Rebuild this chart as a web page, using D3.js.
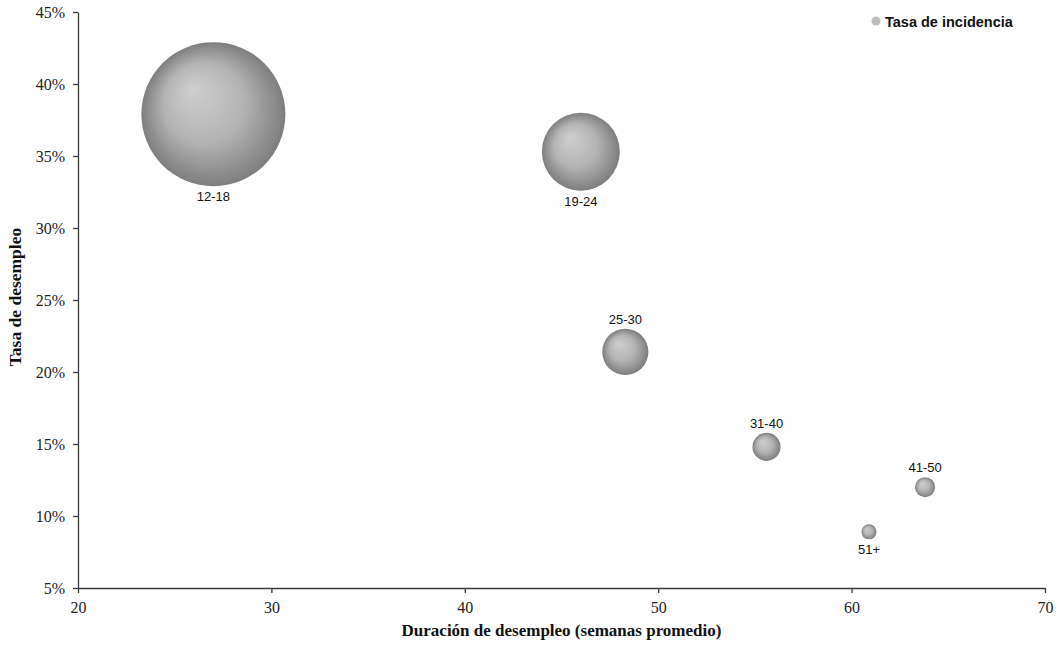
<!DOCTYPE html>
<html>
<head>
<meta charset="utf-8">
<script src="https://cdn.jsdelivr.net/npm/d3@7"></script>
<style>
  body { margin: 0; background: #fff; }
  .axis text { font-family: "Liberation Serif", "DejaVu Serif", serif; font-size: 16px; fill: #222; }
  .axis path, .axis line { stroke: #3a3a3a; stroke-width: 1.3px; }
</style>
</head>
<body>
<div id="chart"></div>
<script>
// Grupos de edad: duración vs tasa de desempleo, tamaño = tasa de incidencia
var groups = ["12-18", "19-24", "25-30", "31-40", "41-50", "51+"];
var duration = [27.0, 46.0, 48.3, 55.6, 63.8, 60.9];
var unemployment = [37.9, 35.3, 21.4, 14.8, 12.0, 8.9];
var incidence = [51.5, 15.1, 5.3, 1.95, 1.0, 0.56];
var labelPos = ["below", "below", "above", "above", "above", "below"];
var xTicks = [20, 30, 40, 50, 60, 70];
var yTicks = [5, 10, 15, 20, 25, 30, 35, 40, 45];

var W = 1059, H = 654;
var margin = { top: 12, right: 14, bottom: 66, left: 78 };
var width = W - margin.left - margin.right,
    height = H - margin.top - margin.bottom;

var svg = d3.select("#chart").append("svg")
    .attr("width", W)
    .attr("height", H);

var defs = svg.append("defs");
var grad = defs.append("radialGradient")
    .attr("id", "ball")
    .attr("cx", "50%").attr("cy", "50%").attr("r", "50%")
    .attr("fx", "35%").attr("fy", "32%");
grad.append("stop").attr("offset", "0%").attr("stop-color", "#cfcfcf");
grad.append("stop").attr("offset", "55%").attr("stop-color", "#b4b4b4");
grad.append("stop").attr("offset", "100%").attr("stop-color", "#7e7e7e");

var g = svg.append("g")
    .attr("transform", "translate(" + margin.left + "," + margin.top + ")");

var x = d3.scaleLinear().domain([20, 70]).range([0, width]);
var y = d3.scaleLinear().domain([5, 45]).range([height, 0]);
var r = d3.scaleSqrt().domain([0, d3.max(incidence)]).range([0, 72]);

// axes
g.append("g")
    .attr("class", "x-axis axis")
    .attr("transform", "translate(0," + height + ")")
    .call(d3.axisBottom(x).tickValues(xTicks).tickSize(5).tickSizeOuter(0).tickPadding(9).tickFormat(d3.format("d")))

g.append("g")
    .attr("class", "y-axis axis")
    .call(d3.axisLeft(y).tickValues(yTicks).tickSize(5).tickSizeOuter(0).tickPadding(8).tickFormat(d => d + "%"))

// axis titles
g.append("text")
    .attr("x", width / 2)
    .attr("y", height + 48)
    .attr("text-anchor", "middle")
    .attr("font-family", "Liberation Serif, DejaVu Serif, serif")
    .attr("font-weight", "bold")
    .attr("font-size", "17px")
    .attr("fill", "#111")
    .text("Duración de desempleo (semanas promedio)");

g.append("text")
    .attr("transform", "translate(" + (-57) + "," + (height / 2 - 3) + ") rotate(-90)")
    .attr("text-anchor", "middle")
    .attr("font-family", "Liberation Serif, DejaVu Serif, serif")
    .attr("font-weight", "bold")
    .attr("font-size", "17.5px")
    .attr("fill", "#111")
    .text("Tasa de desempleo");

// bubbles
var idx = d3.range(groups.length);

g.selectAll("circle.bubble")
    .data(idx)
    .enter()
    .append("circle")
    .attr("class", "bubble")
    .attr("cx", i => x(duration[i]))
    .attr("cy", i => y(unemployment[i]))
    .attr("r", i => r(incidence[i]))
    .attr("fill", "url(#ball)");

g.selectAll("text.lbl")
    .data(idx)
    .enter()
    .append("text")
    .attr("class", "lbl")
    .attr("x", i => x(duration[i]))
    .attr("y", i => labelPos[i] == "below"
        ? y(unemployment[i]) + r(incidence[i]) + 15
        : y(unemployment[i]) - r(incidence[i]) - 5)
    .attr("text-anchor", "middle")
    .attr("font-family", "Liberation Sans, Arial, sans-serif")
    .attr("font-size", "13px")
    .attr("fill", "#111")
    .text(i => groups[i]);

// legend
var legend = svg.append("g").attr("transform", "translate(876,21)");
legend.append("circle")
    .attr("r", 4.5)
    .attr("fill", "#bdbdbd");
legend.append("text")
    .attr("x", 9)
    .attr("y", 5.5)
    .attr("font-family", "Liberation Sans, Arial, sans-serif")
    .attr("font-weight", "bold")
    .attr("font-size", "14.5px")
    .attr("fill", "#111")
    .text("Tasa de incidencia");
</script>
</body>
</html>
